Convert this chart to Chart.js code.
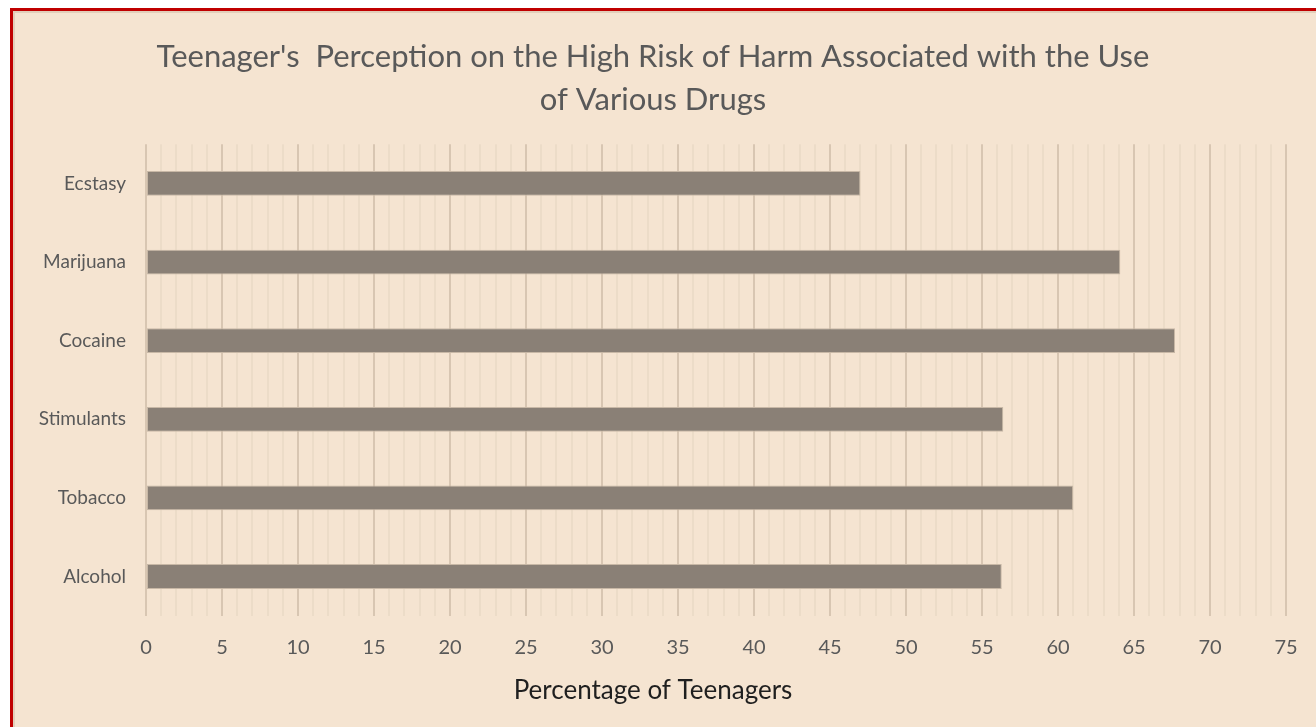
<!DOCTYPE html>
<html>
<head>
<meta charset="utf-8">
<script src="https://cdn.jsdelivr.net/npm/chart.js@4"></script>
<style>
  html, body { margin: 0; padding: 0; background: #fff; }
  body { width: 1316px; height: 727px; position: relative; overflow: hidden; }
  #frame {
    position: absolute; left: 10px; top: 8px; width: 1320px; height: 730px;
    border-left: 3px solid #c00000; border-top: 3px solid #c00000;
    box-shadow: inset 2px 2px 0 #e2cfba;
    background: #f5e4d1;
  }
  #wrap { position: absolute; left: 20px; top: 0; width: 1316px; height: 727px; }
</style>
</head>
<body>
<div id="frame"></div>
<div id="wrap"><canvas id="chart"></canvas></div>
<script>
// ---- data ----
const drugs = ["Ecstasy", "Marijuana", "Cocaine", "Stimulants", "Tobacco", "Alcohol"];
const percentages = [47, 64.1, 67.7, 56.4, 61, 56.3];
const chartTitle = ["Teenager's  Perception on the High Risk of Harm Associated with the Use", "of Various Drugs"];
const axisTitle = "Percentage of Teenagers";

const FONT = "Lato, 'Open Sans', sans-serif";

new Chart(document.getElementById("chart"), {
  type: "bar",
  data: {
    labels: drugs,
    datasets: [{
      data: percentages,
      backgroundColor: "#8a8076",
      borderColor: "#c8b8a6",
      borderWidth: 1,
      borderSkipped: false,
      categoryPercentage: 1,
      barPercentage: 0.315
    }]
  },
  options: {
    indexAxis: "y",
    responsive: true,
    maintainAspectRatio: false,
    animation: false,
    layout: { padding: { top: 0, right: 50, bottom: 0, left: 0 } },
    plugins: {
      legend: { display: false },
      tooltip: { enabled: false },
      title: {
        display: true,
        text: chartTitle,
        color: "#595959",
        font: { family: FONT, size: 31, weight: "normal", lineHeight: 1.39 },
        padding: { top: 35, bottom: 23 }
      },
      // x-axis caption, centred on the whole chart like the original
      subtitle: {
        display: true,
        position: "bottom",
        text: axisTitle,
        color: "#1f1f1f",
        font: { family: FONT, size: 26, weight: "normal", lineHeight: 1.2 },
        padding: { top: 0, bottom: 21 }
      }
    },
    scales: {
      x: {
        min: 0,
        max: 75,
        ticks: {
          stepSize: 1,
          autoSkip: false,
          maxRotation: 0,
          padding: 20,
          color: "#595959",
          font: { family: FONT, size: 20 },
          callback: v => (v % 5 === 0 ? String(v) : "")
        },
        grid: {
          drawTicks: false,
          lineWidth: 2,
          color: ctx => (ctx.tick && ctx.tick.value % 5 === 0 ? "#d8c6b2" : "#ecdcc8")
        },
        border: { display: false },
        afterFit: s => { s.height = 59; }
      },
      y: {
        grid: { display: false },
        border: { display: false },
        ticks: {
          color: "#595959",
          padding: 12,
          font: { family: FONT, size: 19 }
        },
        afterFit: s => { s.width = 126; }
      }
    }
  }
});
</script>
</body>
</html>
